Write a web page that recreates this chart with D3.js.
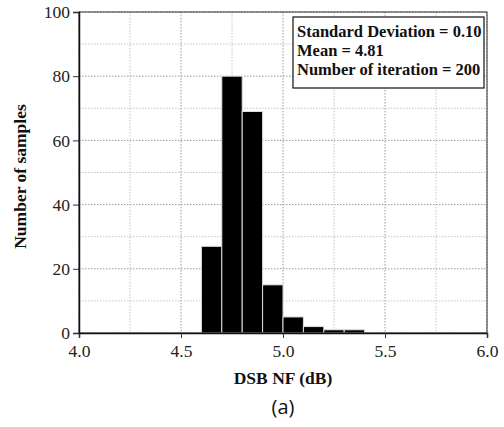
<!DOCTYPE html>
<html>
<head>
<meta charset="utf-8">
<script src="https://cdn.jsdelivr.net/npm/d3@7"></script>
<style>
  body { margin: 0; background: #fff; }
  svg text { font-family: "Liberation Serif", "Times New Roman", serif; }
</style>
</head>
<body>
<div id="chart"></div>
<script>
// histogram bins (lower edge, upper edge) and counts
const binStart = [4.6, 4.7, 4.8, 4.9, 5.0, 5.1, 5.2, 5.3];
const binEnd   = [4.7, 4.8, 4.9, 5.0, 5.1, 5.2, 5.3, 5.4];
const counts   = [27, 80, 69, 15, 5, 2, 1, 1];

const xTicks = [4.0, 4.5, 5.0, 5.5, 6.0];
const xMinor = [4.25, 4.75, 5.25, 5.75];
const yTicks = [0, 20, 40, 60, 80, 100];
const yMinor = [10, 30, 50, 70, 90];

const statLines = ["Standard Deviation = 0.10", "Mean = 4.81", "Number of iteration = 200"];

const W = 504, H = 427;
const margin = {top: 12, right: 17, bottom: 94, left: 79};
const w = W - margin.left - margin.right;
const h = H - margin.top - margin.bottom;

const svg = d3.select("#chart").append("svg")
    .attr("width", W)
    .attr("height", H);

const g = svg.append("g")
    .attr("transform", `translate(${margin.left},${margin.top})`);

const x = d3.scaleLinear().domain([4, 6]).range([0, w]);
const y = d3.scaleLinear().domain([0, 100]).range([h, 0]);

// grid
g.selectAll(".vgrid").data(xTicks.concat(xMinor)).enter().append("line")
    .attr("x1", d => x(d)).attr("x2", d => x(d))
    .attr("y1", 0).attr("y2", h)
    .attr("stroke", d => xMinor.includes(d) ? "#c4c4c4" : "#9a9a9a")
    .attr("stroke-dasharray", "1.5,1.5");

g.selectAll(".hgrid").data(yTicks.concat(yMinor)).enter().append("line")
    .attr("x1", 0).attr("x2", w)
    .attr("y1", d => y(d)).attr("y2", d => y(d))
    .attr("stroke", d => yMinor.includes(d) ? "#c4c4c4" : "#9a9a9a")
    .attr("stroke-dasharray", "1.5,1.5");

// bars
g.selectAll(".bar").data(counts).enter().append("rect")
    .attr("x", (d, i) => x(binStart[i]))
    .attr("width", (d, i) => x(binEnd[i]) - x(binStart[i]))
    .attr("y", d => y(d))
    .attr("height", d => h - y(d))
    .attr("fill", "#000")
    .attr("stroke", "#ddd")
    .attr("stroke-width", 1);

// frame
g.append("rect")
    .attr("width", w).attr("height", h)
    .attr("fill", "none")
    .attr("stroke", "#333")
    .attr("stroke-width", 1);

// axes
const xAxis = g.append("g")
    .attr("transform", `translate(0,${h})`)
    .call(d3.axisBottom(x).tickValues(xTicks).tickFormat(d3.format(".1f")).tickSizeOuter(0).tickSize(5));
const yAxis = g.append("g")
    .call(d3.axisLeft(y).tickValues(yTicks).tickSizeOuter(0).tickSize(6));

[xAxis, yAxis].forEach(a => {
    a.select(".domain").attr("stroke", "#111").attr("stroke-width", 1.5);
    a.selectAll(".tick line").attr("stroke", "#333");
    a.selectAll("text")
        .attr("font-family", "Liberation Serif")
        .attr("font-size", 17.5)
        .attr("fill", "#222");
});
xAxis.selectAll("text").attr("y", 24).attr("dy", null);
yAxis.selectAll("text").attr("x", -9);

// axis titles
svg.append("text")
    .attr("x", margin.left + w / 2)
    .attr("y", 384)
    .attr("text-anchor", "middle")
    .attr("font-weight", "bold")
    .attr("font-size", 17.5)
    .attr("fill", "#111")
    .text("DSB NF (dB)");

svg.append("text")
    .attr("transform", `translate(26,${margin.top + h / 2 + 4}) rotate(-90)`)
    .attr("text-anchor", "middle")
    .attr("font-weight", "bold")
    .attr("font-size", 17.5)
    .attr("fill", "#111")
    .text("Number of samples");

svg.append("text")
    .attr("x", margin.left + w / 2)
    .attr("y", 414)
    .attr("text-anchor", "middle")
    .attr("font-size", 20)
    .attr("fill", "#111")
    .style("font-family", "'Open Sans', sans-serif")
    .text("(a)");

// stats box
const box = svg.append("g").attr("transform", "translate(293,17)");
box.append("rect")
    .attr("width", 191).attr("height", 71)
    .attr("fill", "#fff")
    .attr("stroke", "#111")
    .attr("stroke-width", 1.2);
box.selectAll("text").data(statLines).enter().append("text")
    .attr("x", 4)
    .attr("y", (d, i) => 20 + i * 19)
    .attr("font-weight", "bold")
    .attr("font-size", 16.5)
    .attr("fill", "#111")
    .text(d => d);
</script>
</body>
</html>
